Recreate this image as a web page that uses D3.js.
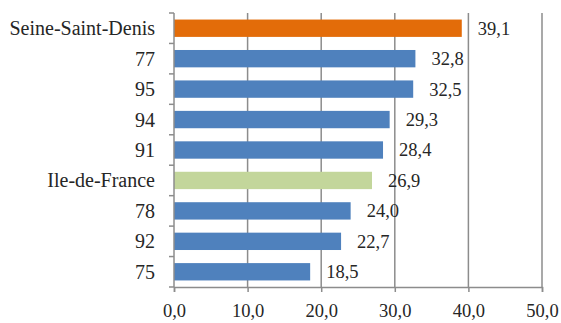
<!DOCTYPE html>
<html>
<head>
<meta charset="utf-8">
<script src="https://cdn.jsdelivr.net/npm/d3@7"></script>
<style>
  body { margin: 0; background: #fff; }
</style>
</head>
<body>
<div id="chart"></div>
<script>
// categories top to bottom, with their values
const categories = ["Seine-Saint-Denis", "77", "95", "94", "91", "Ile-de-France", "78", "92", "75"];
const values = [39.1, 32.8, 32.5, 29.3, 28.4, 26.9, 24.0, 22.7, 18.5];
const barColors = ["#E36C09", "#4F81BD", "#4F81BD", "#4F81BD", "#4F81BD", "#C3D69B", "#4F81BD", "#4F81BD", "#4F81BD"];
const xTicks = [0, 10, 20, 30, 40, 50];

const W = 561, H = 323;
const margin = { top: 13, right: 19, bottom: 36, left: 174 };
const width = W - margin.left - margin.right;
const height = H - margin.top - margin.bottom;
const FONT = "'Liberation Serif', 'Times New Roman', serif";

const svg = d3.select("#chart")
  .append("svg")
  .attr("width", W)
  .attr("height", H)
  .append("g")
  .attr("transform", `translate(${margin.left},${margin.top})`);

const x = d3.scaleLinear().domain([0, 50]).range([0, width]);
const y = d3.scaleBand().domain(categories).range([0, height]).paddingInner(0.43).paddingOuter(0.215);
const fmt = v => d3.format(".1f")(v).replace(".", ",");

// gridlines
svg.append("g")
  .selectAll("line")
  .data(xTicks.slice(1))
  .enter()
  .append("line")
  .attr("x1", d => x(d)).attr("x2", d => x(d))
  .attr("y1", 0).attr("y2", height)
  .attr("stroke", "#8c8c8c")
  .attr("stroke-width", 1.5);

// bars
svg.append("g")
  .selectAll("rect")
  .data(values)
  .enter()
  .append("rect")
  .attr("x", 0)
  .attr("y", (d, i) => y(categories[i]))
  .attr("width", d => x(d))
  .attr("height", y.bandwidth())
  .attr("fill", (d, i) => barColors[i]);

// value labels
svg.append("g")
  .selectAll("text")
  .data(values)
  .enter()
  .append("text")
  .attr("x", d => x(d) + 16)
  .attr("y", (d, i) => y(categories[i]) + y.bandwidth() / 2)
  .attr("dy", "0.35em")
  .style("font-family", FONT)
  .style("font-size", "18.5px")
  .style("fill", "#262626")
  .text(d => fmt(d));

// x axis
const xAxis = svg.append("g")
  .attr("transform", `translate(0,${height})`)
  .call(d3.axisBottom(x).tickValues(xTicks).tickSize(5).tickPadding(12).tickFormat(fmt));
xAxis.attr("font-family", null).attr("font-size", null);
xAxis.select(".domain").attr("stroke", "#8c8c8c").attr("stroke-width", 1.5);
xAxis.selectAll(".tick line").attr("stroke", "#8c8c8c").attr("stroke-width", 1.5);
xAxis.selectAll(".tick text")
  .style("font-family", FONT)
  .style("font-size", "18.5px")
  .style("fill", "#262626");

// y axis: ticks at band boundaries
const boundaries = d3.range(categories.length + 1).map(i => i * height / categories.length);
const yG = svg.append("g");
yG.append("line")
  .attr("x1", 0).attr("x2", 0).attr("y1", 0).attr("y2", height)
  .attr("stroke", "#8c8c8c").attr("stroke-width", 1.5);
yG.selectAll("line.tk")
  .data(boundaries)
  .enter()
  .append("line")
  .attr("class", "tk")
  .attr("x1", -5).attr("x2", 0)
  .attr("y1", d => d).attr("y2", d => d)
  .attr("stroke", "#8c8c8c").attr("stroke-width", 1.5);
yG.selectAll("text")
  .data(categories)
  .enter()
  .append("text")
  .attr("x", -19)
  .attr("y", d => y(d) + y.bandwidth() / 2)
  .attr("dy", "0.35em")
  .attr("text-anchor", "end")
  .style("font-family", FONT)
  .style("font-size", "20px")
  .style("fill", "#262626")
  .text(d => d);
</script>
</body>
</html>
